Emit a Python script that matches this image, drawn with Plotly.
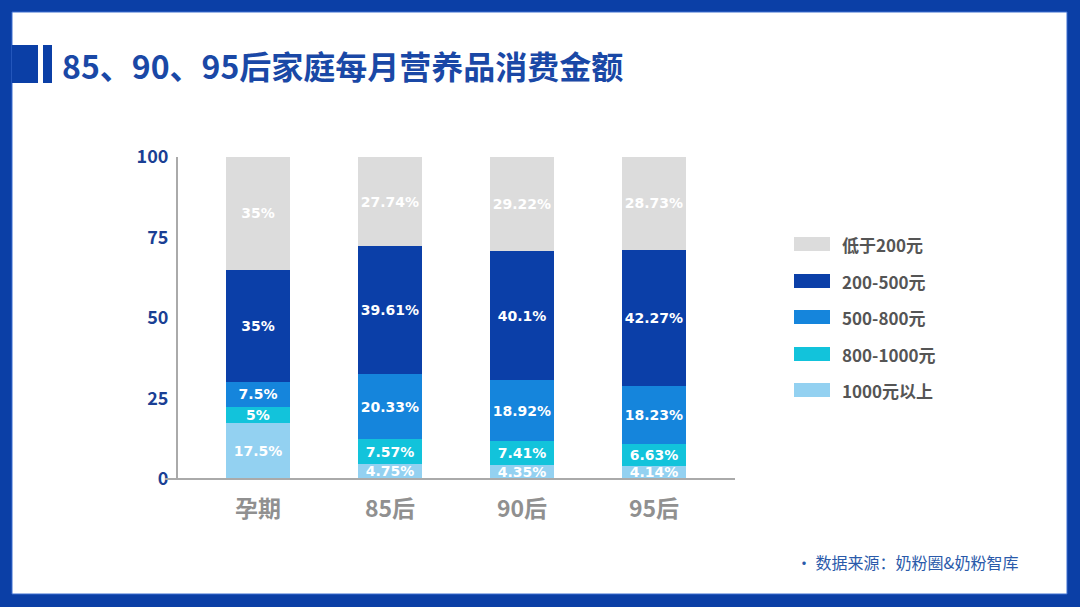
import plotly.graph_objects as go

categories = ["孕期", "85后", "90后", "95后"]
series_names = ["1000元以上", "800-1000元", "500-800元", "200-500元", "低于200元"]
s_1000plus = [17.5, 4.75, 4.35, 4.14]
s_800_1000 = [5, 7.57, 7.41, 6.63]
s_500_800 = [7.5, 20.33, 18.92, 18.23]
s_200_500 = [35, 39.61, 40.1, 42.27]
s_below200 = [35, 27.74, 29.22, 28.73]
series_values = [s_1000plus, s_800_1000, s_500_800, s_200_500, s_below200]
colors = ["#93d1f1", "#12c3db", "#1585dc", "#0b3fa8", "#dcdcdc"]
y_ticks = [0, 25, 50, 75, 100]

W, H = 1080, 607
ML, MR, MT, MB = 178, 345, 157, 128
PW, PH = W - ML - MR, H - MT - MB

def px(x):
    return (x - ML) / PW

def py(y):
    return (H - MB - y) / PH

CJK = "Noto Sans CJK SC"

fig = go.Figure()
for name, vals, col in zip(series_names, series_values, colors):
    fig.add_trace(go.Bar(
        x=categories, y=vals, name=name, marker=dict(color=col, line=dict(width=0)),
        text=[f"{v:g}%" for v in vals], textposition="inside", insidetextanchor="middle",
        textfont=dict(color="white", size=14, family="DejaVu Sans", weight="bold"),
        constraintext="none", width=0.49, showlegend=False,
    ))

shapes = []
# blue frame
shapes.append(dict(type="rect", xref="paper", yref="paper", x0=px(0), x1=px(W), y0=py(H), y1=py(0),
                   fillcolor="#0b3fa6", line=dict(width=0), layer="below"))
shapes.append(dict(type="rect", xref="paper", yref="paper", x0=px(12), x1=px(1067), y0=py(594), y1=py(12),
                   fillcolor="white", line=dict(color="#3d6fd0", width=1), layer="below"))
# title accent
shapes.append(dict(type="rect", xref="paper", yref="paper", x0=px(12), x1=px(38), y0=py(83), y1=py(45),
                   fillcolor="#0b3fa6", line=dict(width=0), layer="below"))
shapes.append(dict(type="rect", xref="paper", yref="paper", x0=px(43), x1=px(52), y0=py(83), y1=py(45),
                   fillcolor="#0b3fa6", line=dict(width=0), layer="below"))
# x axis line
shapes.append(dict(type="line", xref="paper", yref="paper", x0=px(165), x1=px(735), y0=py(479), y1=py(479),
                   line=dict(color="#aaaaaa", width=2)))

annotations = []
annotations.append(dict(text="<b>85、90、95后家庭每月营养品消费金额</b>", xref="paper", yref="paper",
                        x=px(60), y=py(65), xanchor="left", yanchor="middle", showarrow=False,
                        font=dict(family=CJK, size=32, color="#1a48a6")))
# legend (custom swatches)
leg_rows = [244, 281, 317, 354, 390]
for i, (name, col) in enumerate(zip(series_names[::-1], colors[::-1])):
    yc = leg_rows[i]
    shapes.append(dict(type="rect", xref="paper", yref="paper", x0=px(794), x1=px(830),
                       y0=py(yc + 7), y1=py(yc - 7), fillcolor=col, line=dict(width=0)))
    annotations.append(dict(text=f"<b>{name}</b>", xref="paper", yref="paper", x=px(840), y=py(yc),
                            xanchor="left", yanchor="middle", showarrow=False,
                            font=dict(family=CJK, size=17, color="#555555")))
annotations.append(dict(text="· 数据来源：奶粉圈&奶粉智库", xref="paper", yref="paper", x=px(1020), y=py(562),
                        xanchor="right", yanchor="middle", showarrow=False,
                        font=dict(family=CJK, size=16, color="#2a5aaa")))

fig.update_layout(
    width=W, height=H, barmode="stack",
    margin=dict(l=ML, r=MR, t=MT, b=MB, pad=0),
    paper_bgcolor="white", plot_bgcolor="rgba(0,0,0,0)",
    shapes=shapes, annotations=annotations,
    uniformtext=dict(minsize=13, mode="show"),
    xaxis=dict(range=[-0.606, 3.614], showline=False, showgrid=False, zeroline=False, ticks="",
               tickfont=dict(family=CJK, size=23, color="#909090", weight="bold"), ticklabelstandoff=14),
    yaxis=dict(range=[0, 100], tickvals=y_ticks, ticktext=[f"<b>{t}</b>" for t in y_ticks],
               showline=True, linecolor="#aaaaaa", linewidth=2, showgrid=False, zeroline=False,
               ticks="", tickfont=dict(family=CJK, size=18, color="#1a3f94"), ticklabelstandoff=4),
)

fig.write_html("out.html", config={"displayModeBar": False, "staticPlot": True},
               post_script="document.body.style.margin='0';document.body.style.overflow='hidden';")
